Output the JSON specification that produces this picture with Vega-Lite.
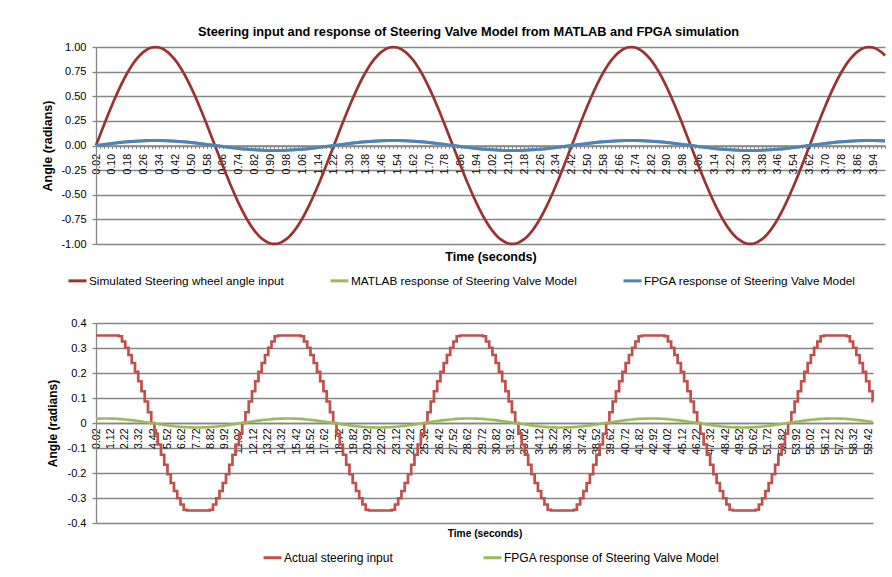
{
"$schema": "https://vega.github.io/schema/vega-lite/v6.json",
"padding": {"left": 41, "top": 26, "right": 5, "bottom": 5},
"config": {"view": {"stroke": null}, "font": "Liberation Sans",
 "axis": {"labelColor": "#000", "titleColor": "#000", "labelFont": "Liberation Sans", "titleFont": "Liberation Sans"},
 "legend": {"labelColor": "#000", "labelFont": "Liberation Sans", "labelLimit": 500}},
"datasets": {
"top": [
{"t":0.02,"s":0,"f":0},{"t":0.06,"s":0.2079,"f":0.0104},{"t":0.10,"s":0.4067,"f":0.0203},{"t":0.14,"s":0.5878,"f":0.0294},{"t":0.18,"s":0.7431,"f":0.0372},{"t":0.22,"s":0.8660,"f":0.0433},{"t":0.26,"s":0.9511,"f":0.0476},{"t":0.30,"s":0.9945,"f":0.0497},{"t":0.34,"s":0.9945,"f":0.0497},{"t":0.38,"s":0.9511,"f":0.0476},{"t":0.42,"s":0.8660,"f":0.0433},{"t":0.46,"s":0.7431,"f":0.0372},{"t":0.50,"s":0.5878,"f":0.0294},{"t":0.54,"s":0.4067,"f":0.0203},{"t":0.58,"s":0.2079,"f":0.0104},
{"t":0.62,"s":0,"f":0},{"t":0.66,"s":-0.2079,"f":-0.0104},{"t":0.70,"s":-0.4067,"f":-0.0203},{"t":0.74,"s":-0.5878,"f":-0.0294},{"t":0.78,"s":-0.7431,"f":-0.0372},{"t":0.82,"s":-0.8660,"f":-0.0433},{"t":0.86,"s":-0.9511,"f":-0.0476},{"t":0.90,"s":-0.9945,"f":-0.0497},{"t":0.94,"s":-0.9945,"f":-0.0497},{"t":0.98,"s":-0.9511,"f":-0.0476},{"t":1.02,"s":-0.8660,"f":-0.0433},{"t":1.06,"s":-0.7431,"f":-0.0372},{"t":1.10,"s":-0.5878,"f":-0.0294},{"t":1.14,"s":-0.4067,"f":-0.0203},{"t":1.18,"s":-0.2079,"f":-0.0104},
{"t":1.22,"s":0,"f":0},{"t":1.26,"s":0.2079,"f":0.0104},{"t":1.30,"s":0.4067,"f":0.0203},{"t":1.34,"s":0.5878,"f":0.0294},{"t":1.38,"s":0.7431,"f":0.0372},{"t":1.42,"s":0.8660,"f":0.0433},{"t":1.46,"s":0.9511,"f":0.0476},{"t":1.50,"s":0.9945,"f":0.0497},{"t":1.54,"s":0.9945,"f":0.0497},{"t":1.58,"s":0.9511,"f":0.0476},{"t":1.62,"s":0.8660,"f":0.0433},{"t":1.66,"s":0.7431,"f":0.0372},{"t":1.70,"s":0.5878,"f":0.0294},{"t":1.74,"s":0.4067,"f":0.0203},{"t":1.78,"s":0.2079,"f":0.0104},
{"t":1.82,"s":0,"f":0},{"t":1.86,"s":-0.2079,"f":-0.0104},{"t":1.90,"s":-0.4067,"f":-0.0203},{"t":1.94,"s":-0.5878,"f":-0.0294},{"t":1.98,"s":-0.7431,"f":-0.0372},{"t":2.02,"s":-0.8660,"f":-0.0433},{"t":2.06,"s":-0.9511,"f":-0.0476},{"t":2.10,"s":-0.9945,"f":-0.0497},{"t":2.14,"s":-0.9945,"f":-0.0497},{"t":2.18,"s":-0.9511,"f":-0.0476},{"t":2.22,"s":-0.8660,"f":-0.0433},{"t":2.26,"s":-0.7431,"f":-0.0372},{"t":2.30,"s":-0.5878,"f":-0.0294},{"t":2.34,"s":-0.4067,"f":-0.0203},{"t":2.38,"s":-0.2079,"f":-0.0104},
{"t":2.42,"s":0,"f":0},{"t":2.46,"s":0.2079,"f":0.0104},{"t":2.50,"s":0.4067,"f":0.0203},{"t":2.54,"s":0.5878,"f":0.0294},{"t":2.58,"s":0.7431,"f":0.0372},{"t":2.62,"s":0.8660,"f":0.0433},{"t":2.66,"s":0.9511,"f":0.0476},{"t":2.70,"s":0.9945,"f":0.0497},{"t":2.74,"s":0.9945,"f":0.0497},{"t":2.78,"s":0.9511,"f":0.0476},{"t":2.82,"s":0.8660,"f":0.0433},{"t":2.86,"s":0.7431,"f":0.0372},{"t":2.90,"s":0.5878,"f":0.0294},{"t":2.94,"s":0.4067,"f":0.0203},{"t":2.98,"s":0.2079,"f":0.0104},
{"t":3.02,"s":0,"f":0},{"t":3.06,"s":-0.2079,"f":-0.0104},{"t":3.10,"s":-0.4067,"f":-0.0203},{"t":3.14,"s":-0.5878,"f":-0.0294},{"t":3.18,"s":-0.7431,"f":-0.0372},{"t":3.22,"s":-0.8660,"f":-0.0433},{"t":3.26,"s":-0.9511,"f":-0.0476},{"t":3.30,"s":-0.9945,"f":-0.0497},{"t":3.34,"s":-0.9945,"f":-0.0497},{"t":3.38,"s":-0.9511,"f":-0.0476},{"t":3.42,"s":-0.8660,"f":-0.0433},{"t":3.46,"s":-0.7431,"f":-0.0372},{"t":3.50,"s":-0.5878,"f":-0.0294},{"t":3.54,"s":-0.4067,"f":-0.0203},{"t":3.58,"s":-0.2079,"f":-0.0104},
{"t":3.62,"s":0,"f":0},{"t":3.66,"s":0.2079,"f":0.0104},{"t":3.70,"s":0.4067,"f":0.0203},{"t":3.74,"s":0.5878,"f":0.0294},{"t":3.78,"s":0.7431,"f":0.0372},{"t":3.82,"s":0.8660,"f":0.0433},{"t":3.86,"s":0.9511,"f":0.0476},{"t":3.90,"s":0.9945,"f":0.0497},{"t":3.94,"s":0.9945,"f":0.0497},{"t":3.98,"s":0.9511,"f":0.0476},{"t":4.00,"s":0.9135,"f":0.0457}
],
"bot": [
{"t":0.02,"v":0.35,"g":0.0170},{"t":0.27,"v":0.35,"g":0.0175},{"t":0.52,"v":0.35,"g":0.0179},
{"t":0.77,"v":0.35,"g":0.0180},{"t":1.02,"v":0.35,"g":0.0179},{"t":1.27,"v":0.35,"g":0.0175},{"t":1.52,"v":0.35,"g":0.0170},{"t":1.77,"v":0.347,"g":0.0162},{"t":2.02,"v":0.326,"g":0.0152},{"t":2.27,"v":0.301,"g":0.0141},{"t":2.52,"v":0.272,"g":0.0127},{"t":2.77,"v":0.240,"g":0.0112},{"t":3.02,"v":0.205,"g":0.0096},{"t":3.27,"v":0.167,"g":0.0078},{"t":3.52,"v":0.127,"g":0.0059},{"t":3.77,"v":0.086,"g":0.0040},{"t":4.02,"v":0.043,"g":0.0020},{"t":4.27,"v":0,"g":0},{"t":4.52,"v":-0.043,"g":-0.0020},{"t":4.77,"v":-0.086,"g":-0.0040},{"t":5.02,"v":-0.127,"g":-0.0059},{"t":5.27,"v":-0.167,"g":-0.0078},{"t":5.52,"v":-0.205,"g":-0.0096},{"t":5.77,"v":-0.240,"g":-0.0112},{"t":6.02,"v":-0.272,"g":-0.0127},{"t":6.27,"v":-0.301,"g":-0.0141},{"t":6.52,"v":-0.326,"g":-0.0152},{"t":6.77,"v":-0.347,"g":-0.0162},{"t":7.02,"v":-0.35,"g":-0.0170},{"t":7.27,"v":-0.35,"g":-0.0175},{"t":7.52,"v":-0.35,"g":-0.0179},{"t":7.77,"v":-0.35,"g":-0.0180},{"t":8.02,"v":-0.35,"g":-0.0179},{"t":8.27,"v":-0.35,"g":-0.0175},{"t":8.52,"v":-0.35,"g":-0.0170},{"t":8.77,"v":-0.347,"g":-0.0162},{"t":9.02,"v":-0.326,"g":-0.0152},{"t":9.27,"v":-0.301,"g":-0.0141},{"t":9.52,"v":-0.272,"g":-0.0127},{"t":9.77,"v":-0.240,"g":-0.0112},{"t":10.02,"v":-0.205,"g":-0.0096},{"t":10.27,"v":-0.167,"g":-0.0078},{"t":10.52,"v":-0.127,"g":-0.0059},{"t":10.77,"v":-0.086,"g":-0.0040},{"t":11.02,"v":-0.043,"g":-0.0020},{"t":11.27,"v":0,"g":0},{"t":11.52,"v":0.043,"g":0.0020},{"t":11.77,"v":0.086,"g":0.0040},{"t":12.02,"v":0.127,"g":0.0059},{"t":12.27,"v":0.167,"g":0.0078},{"t":12.52,"v":0.205,"g":0.0096},{"t":12.77,"v":0.240,"g":0.0112},{"t":13.02,"v":0.272,"g":0.0127},{"t":13.27,"v":0.301,"g":0.0141},{"t":13.52,"v":0.326,"g":0.0152},{"t":13.77,"v":0.347,"g":0.0162},{"t":14.02,"v":0.35,"g":0.0170},{"t":14.27,"v":0.35,"g":0.0175},{"t":14.52,"v":0.35,"g":0.0179},
{"t":14.77,"v":0.35,"g":0.0180},{"t":15.02,"v":0.35,"g":0.0179},{"t":15.27,"v":0.35,"g":0.0175},{"t":15.52,"v":0.35,"g":0.0170},{"t":15.77,"v":0.347,"g":0.0162},{"t":16.02,"v":0.326,"g":0.0152},{"t":16.27,"v":0.301,"g":0.0141},{"t":16.52,"v":0.272,"g":0.0127},{"t":16.77,"v":0.240,"g":0.0112},{"t":17.02,"v":0.205,"g":0.0096},{"t":17.27,"v":0.167,"g":0.0078},{"t":17.52,"v":0.127,"g":0.0059},{"t":17.77,"v":0.086,"g":0.0040},{"t":18.02,"v":0.043,"g":0.0020},{"t":18.27,"v":0,"g":0},{"t":18.52,"v":-0.043,"g":-0.0020},{"t":18.77,"v":-0.086,"g":-0.0040},{"t":19.02,"v":-0.127,"g":-0.0059},{"t":19.27,"v":-0.167,"g":-0.0078},{"t":19.52,"v":-0.205,"g":-0.0096},{"t":19.77,"v":-0.240,"g":-0.0112},{"t":20.02,"v":-0.272,"g":-0.0127},{"t":20.27,"v":-0.301,"g":-0.0141},{"t":20.52,"v":-0.326,"g":-0.0152},{"t":20.77,"v":-0.347,"g":-0.0162},{"t":21.02,"v":-0.35,"g":-0.0170},{"t":21.27,"v":-0.35,"g":-0.0175},{"t":21.52,"v":-0.35,"g":-0.0179},{"t":21.77,"v":-0.35,"g":-0.0180},{"t":22.02,"v":-0.35,"g":-0.0179},{"t":22.27,"v":-0.35,"g":-0.0175},{"t":22.52,"v":-0.35,"g":-0.0170},{"t":22.77,"v":-0.347,"g":-0.0162},{"t":23.02,"v":-0.326,"g":-0.0152},{"t":23.27,"v":-0.301,"g":-0.0141},{"t":23.52,"v":-0.272,"g":-0.0127},{"t":23.77,"v":-0.240,"g":-0.0112},{"t":24.02,"v":-0.205,"g":-0.0096},{"t":24.27,"v":-0.167,"g":-0.0078},{"t":24.52,"v":-0.127,"g":-0.0059},{"t":24.77,"v":-0.086,"g":-0.0040},{"t":25.02,"v":-0.043,"g":-0.0020},{"t":25.27,"v":0,"g":0},{"t":25.52,"v":0.043,"g":0.0020},{"t":25.77,"v":0.086,"g":0.0040},{"t":26.02,"v":0.127,"g":0.0059},{"t":26.27,"v":0.167,"g":0.0078},{"t":26.52,"v":0.205,"g":0.0096},{"t":26.77,"v":0.240,"g":0.0112},{"t":27.02,"v":0.272,"g":0.0127},{"t":27.27,"v":0.301,"g":0.0141},{"t":27.52,"v":0.326,"g":0.0152},{"t":27.77,"v":0.347,"g":0.0162},{"t":28.02,"v":0.35,"g":0.0170},{"t":28.27,"v":0.35,"g":0.0175},{"t":28.52,"v":0.35,"g":0.0179},
{"t":28.77,"v":0.35,"g":0.0180},{"t":29.02,"v":0.35,"g":0.0179},{"t":29.27,"v":0.35,"g":0.0175},{"t":29.52,"v":0.35,"g":0.0170},{"t":29.77,"v":0.347,"g":0.0162},{"t":30.02,"v":0.326,"g":0.0152},{"t":30.27,"v":0.301,"g":0.0141},{"t":30.52,"v":0.272,"g":0.0127},{"t":30.77,"v":0.240,"g":0.0112},{"t":31.02,"v":0.205,"g":0.0096},{"t":31.27,"v":0.167,"g":0.0078},{"t":31.52,"v":0.127,"g":0.0059},{"t":31.77,"v":0.086,"g":0.0040},{"t":32.02,"v":0.043,"g":0.0020},{"t":32.27,"v":0,"g":0},{"t":32.52,"v":-0.043,"g":-0.0020},{"t":32.77,"v":-0.086,"g":-0.0040},{"t":33.02,"v":-0.127,"g":-0.0059},{"t":33.27,"v":-0.167,"g":-0.0078},{"t":33.52,"v":-0.205,"g":-0.0096},{"t":33.77,"v":-0.240,"g":-0.0112},{"t":34.02,"v":-0.272,"g":-0.0127},{"t":34.27,"v":-0.301,"g":-0.0141},{"t":34.52,"v":-0.326,"g":-0.0152},{"t":34.77,"v":-0.347,"g":-0.0162},{"t":35.02,"v":-0.35,"g":-0.0170},{"t":35.27,"v":-0.35,"g":-0.0175},{"t":35.52,"v":-0.35,"g":-0.0179},{"t":35.77,"v":-0.35,"g":-0.0180},{"t":36.02,"v":-0.35,"g":-0.0179},{"t":36.27,"v":-0.35,"g":-0.0175},{"t":36.52,"v":-0.35,"g":-0.0170},{"t":36.77,"v":-0.347,"g":-0.0162},{"t":37.02,"v":-0.326,"g":-0.0152},{"t":37.27,"v":-0.301,"g":-0.0141},{"t":37.52,"v":-0.272,"g":-0.0127},{"t":37.77,"v":-0.240,"g":-0.0112},{"t":38.02,"v":-0.205,"g":-0.0096},{"t":38.27,"v":-0.167,"g":-0.0078},{"t":38.52,"v":-0.127,"g":-0.0059},{"t":38.77,"v":-0.086,"g":-0.0040},{"t":39.02,"v":-0.043,"g":-0.0020},{"t":39.27,"v":0,"g":0},{"t":39.52,"v":0.043,"g":0.0020},{"t":39.77,"v":0.086,"g":0.0040},{"t":40.02,"v":0.127,"g":0.0059},{"t":40.27,"v":0.167,"g":0.0078},{"t":40.52,"v":0.205,"g":0.0096},{"t":40.77,"v":0.240,"g":0.0112},{"t":41.02,"v":0.272,"g":0.0127},{"t":41.27,"v":0.301,"g":0.0141},{"t":41.52,"v":0.326,"g":0.0152},{"t":41.77,"v":0.347,"g":0.0162},{"t":42.02,"v":0.35,"g":0.0170},{"t":42.27,"v":0.35,"g":0.0175},{"t":42.52,"v":0.35,"g":0.0179},
{"t":42.77,"v":0.35,"g":0.0180},{"t":43.02,"v":0.35,"g":0.0179},{"t":43.27,"v":0.35,"g":0.0175},{"t":43.52,"v":0.35,"g":0.0170},{"t":43.77,"v":0.347,"g":0.0162},{"t":44.02,"v":0.326,"g":0.0152},{"t":44.27,"v":0.301,"g":0.0141},{"t":44.52,"v":0.272,"g":0.0127},{"t":44.77,"v":0.240,"g":0.0112},{"t":45.02,"v":0.205,"g":0.0096},{"t":45.27,"v":0.167,"g":0.0078},{"t":45.52,"v":0.127,"g":0.0059},{"t":45.77,"v":0.086,"g":0.0040},{"t":46.02,"v":0.043,"g":0.0020},{"t":46.27,"v":0,"g":0},{"t":46.52,"v":-0.043,"g":-0.0020},{"t":46.77,"v":-0.086,"g":-0.0040},{"t":47.02,"v":-0.127,"g":-0.0059},{"t":47.27,"v":-0.167,"g":-0.0078},{"t":47.52,"v":-0.205,"g":-0.0096},{"t":47.77,"v":-0.240,"g":-0.0112},{"t":48.02,"v":-0.272,"g":-0.0127},{"t":48.27,"v":-0.301,"g":-0.0141},{"t":48.52,"v":-0.326,"g":-0.0152},{"t":48.77,"v":-0.347,"g":-0.0162},{"t":49.02,"v":-0.35,"g":-0.0170},{"t":49.27,"v":-0.35,"g":-0.0175},{"t":49.52,"v":-0.35,"g":-0.0179},{"t":49.77,"v":-0.35,"g":-0.0180},{"t":50.02,"v":-0.35,"g":-0.0179},{"t":50.27,"v":-0.35,"g":-0.0175},{"t":50.52,"v":-0.35,"g":-0.0170},{"t":50.77,"v":-0.347,"g":-0.0162},{"t":51.02,"v":-0.326,"g":-0.0152},{"t":51.27,"v":-0.301,"g":-0.0141},{"t":51.52,"v":-0.272,"g":-0.0127},{"t":51.77,"v":-0.240,"g":-0.0112},{"t":52.02,"v":-0.205,"g":-0.0096},{"t":52.27,"v":-0.167,"g":-0.0078},{"t":52.52,"v":-0.127,"g":-0.0059},{"t":52.77,"v":-0.086,"g":-0.0040},{"t":53.02,"v":-0.043,"g":-0.0020},{"t":53.27,"v":0,"g":0},{"t":53.52,"v":0.043,"g":0.0020},{"t":53.77,"v":0.086,"g":0.0040},{"t":54.02,"v":0.127,"g":0.0059},{"t":54.27,"v":0.167,"g":0.0078},{"t":54.52,"v":0.205,"g":0.0096},{"t":54.77,"v":0.240,"g":0.0112},{"t":55.02,"v":0.272,"g":0.0127},{"t":55.27,"v":0.301,"g":0.0141},{"t":55.52,"v":0.326,"g":0.0152},{"t":55.77,"v":0.347,"g":0.0162},{"t":56.02,"v":0.35,"g":0.0170},{"t":56.27,"v":0.35,"g":0.0175},{"t":56.52,"v":0.35,"g":0.0179},
{"t":56.77,"v":0.35,"g":0.0180},{"t":57.02,"v":0.35,"g":0.0179},{"t":57.27,"v":0.35,"g":0.0175},{"t":57.52,"v":0.35,"g":0.0170},{"t":57.77,"v":0.347,"g":0.0162},{"t":58.02,"v":0.326,"g":0.0152},{"t":58.27,"v":0.301,"g":0.0141},{"t":58.52,"v":0.272,"g":0.0127},{"t":58.77,"v":0.240,"g":0.0112},{"t":59.02,"v":0.205,"g":0.0096},{"t":59.27,"v":0.167,"g":0.0078},{"t":59.52,"v":0.127,"g":0.0059},{"t":59.77,"v":0.086,"g":0.0040},{"t":59.80,"v":0.086,"g":0.0038}
]
},
"vconcat": [
{
 "width": 789, "height": 197,
 "title": {"text": "Steering input and response of Steering Valve Model from MATLAB and FPGA simulation", "fontSize": 12.8, "fontWeight": "bold", "color": "#000", "offset": 2, "dx": -22},
 "data": {"name": "top"},
 "encoding": {
  "x": {"field": "t", "type": "quantitative", "scale": {"domain": [0.02, 4.0], "nice": false, "zero": false},
   "axis": {"orient": "bottom", "offset": -98.5, "tickCount": 199,
    "labelExpr": "round(datum.value*50) % 4 == 1 ? format(datum.value, '.2f') : ''",
    "labelAngle": -90, "labelFontSize": 10.5, "labelPadding": 5, "labelOverlap": false, "labelFlush": false, "labelBound": false,
    "tickSize": 3, "tickColor": "#868686", "tickWidth": 1, "domainColor": "#868686", "domainWidth": 1.3, "grid": false,
    "title": "Time (seconds)", "titleY": 111, "titleBaseline": "middle", "titleFontSize": 12.5, "titleFontWeight": "bold"}}
 },
 "layer": [
  {"mark": {"type": "line", "interpolate": "catmull-rom", "strokeWidth": 2.7},
   "encoding": {
    "y": {"field": "s", "type": "quantitative", "title": "Angle (radians)", "scale": {"domain": [-1, 1], "nice": false},
     "axis": {"values": [-1, -0.75, -0.5, -0.25, 0, 0.25, 0.5, 0.75, 1], "labelExpr": "replace(format(datum.value, '.2f'), '−', '-')",
      "grid": true, "gridColor": "#868686", "gridWidth": 1.3, "domainColor": "#868686", "domainWidth": 1.3, "tickColor": "#868686", "tickSize": 4, "tickWidth": 1.3,
      "labelPadding": 6, "labelFontSize": 11, "title": "Angle (radians)", "titleFontSize": 12.5, "titleFontWeight": "bold", "titleX": -49, "titleBaseline": "middle"}},
    "color": {"datum": "Simulated Steering wheel angle input", "type": "nominal",
     "scale": {"domain": ["Simulated Steering wheel angle input", "MATLAB response of Steering Valve Model", "FPGA response of Steering Valve Model"], "range": ["#993333", "#9BBB59", "#4F81BD"]},
     "legend": {"orient": "none", "legendX": -29, "legendY": 223, "direction": "horizontal", "title": null, "symbolType": "stroke", "symbolStrokeWidth": 3, "symbolSize": 324, "labelFontSize": 11.8, "columnPadding": 40, "labelOffset": 1, "labelLimit": 500}}
   }},
  {"mark": {"type": "line", "interpolate": "catmull-rom", "strokeWidth": 3},
   "encoding": {"y": {"field": "f", "type": "quantitative", "title": "Angle (radians)",
     "axis": {"values": [-1, -0.75, -0.5, -0.25, 0, 0.25, 0.5, 0.75, 1], "labelExpr": "replace(format(datum.value, '.2f'), '−', '-')",
      "grid": true, "gridColor": "#868686", "gridWidth": 1.3, "domainColor": "#868686", "domainWidth": 1.3, "tickColor": "#868686", "tickSize": 4, "tickWidth": 1.3,
      "labelPadding": 6, "labelFontSize": 11, "title": "Angle (radians)", "titleFontSize": 12.5, "titleFontWeight": "bold", "titleX": -49, "titleBaseline": "middle"}},
    "color": {"datum": "MATLAB response of Steering Valve Model", "type": "nominal"}}},
  {"mark": {"type": "line", "interpolate": "catmull-rom", "strokeWidth": 3},
   "encoding": {"y": {"field": "f", "type": "quantitative", "title": "Angle (radians)",
     "axis": {"values": [-1, -0.75, -0.5, -0.25, 0, 0.25, 0.5, 0.75, 1], "labelExpr": "replace(format(datum.value, '.2f'), '−', '-')",
      "grid": true, "gridColor": "#868686", "gridWidth": 1.3, "domainColor": "#868686", "domainWidth": 1.3, "tickColor": "#868686", "tickSize": 4, "tickWidth": 1.3,
      "labelPadding": 6, "labelFontSize": 11, "title": "Angle (radians)", "titleFontSize": 12.5, "titleFontWeight": "bold", "titleX": -49, "titleBaseline": "middle"}},
    "color": {"datum": "FPGA response of Steering Valve Model", "type": "nominal"}}}
 ]
},
{
 "width": 777, "height": 200,
 "data": {"name": "bot"},
 "encoding": {
  "x": {"field": "t", "type": "quantitative", "scale": {"domain": [0.02, 59.8], "nice": false, "zero": false},
   "axis": {"orient": "bottom", "offset": -100,
    "values": [0.02,1.12,2.22,3.32,4.42,5.52,6.62,7.72,8.82,9.92,11.02,12.12,13.22,14.32,15.42,16.52,17.62,18.72,19.82,20.92,22.02,23.12,24.22,25.32,26.42,27.52,28.62,29.72,30.82,31.92,33.02,34.12,35.22,36.32,37.42,38.52,39.62,40.72,41.82,42.92,44.02,45.12,46.22,47.32,48.42,49.52,50.62,51.72,52.82,53.92,55.02,56.12,57.22,58.32,59.42],
    "format": ".2f", "labelAngle": -90, "labelFontSize": 10.5, "labelPadding": 5, "labelOverlap": false, "labelFlush": false,
    "ticks": false, "domainColor": "#868686", "domainWidth": 1.3, "grid": false,
    "title": "Time (seconds)", "titleY": 110, "titleBaseline": "middle", "titleFontSize": 10.2, "titleFontWeight": "bold"}}
 },
 "layer": [
  {"mark": {"type": "line", "interpolate": "step-after", "strokeWidth": 2.7},
   "encoding": {
    "y": {"field": "v", "type": "quantitative", "title": "Angle (radians)", "scale": {"domain": [-0.4, 0.4], "nice": false},
     "axis": {"values": [-0.4, -0.3, -0.2, -0.1, 0, 0.1, 0.2, 0.3, 0.4], "labelExpr": "replace(format(datum.value, '.1~f'), '−', '-')",
      "grid": true, "gridColor": "#868686", "gridWidth": 1.3, "domainColor": "#868686", "domainWidth": 1.3, "tickColor": "#868686", "tickSize": 4, "tickWidth": 1.3,
      "labelPadding": 6, "labelFontSize": 11, "title": "Angle (radians)", "titleFontSize": 12, "titleFontWeight": "bold", "titleX": -44, "titleBaseline": "middle"}},
    "color": {"datum": "Actual steering input", "type": "nominal",
     "scale": {"domain": ["Actual steering input", "FPGA response of Steering Valve Model"], "range": ["#C0504D", "#9BBB59"]},
     "legend": {"orient": "none", "legendX": 166, "legendY": 224, "direction": "horizontal", "title": null, "symbolType": "stroke", "symbolStrokeWidth": 3, "symbolSize": 324, "labelFontSize": 12, "columnPadding": 84, "labelOffset": 1, "labelLimit": 500}}
   }},
  {"mark": {"type": "line", "interpolate": "monotone", "strokeWidth": 2.7},
   "encoding": {"y": {"field": "g", "type": "quantitative", "title": "Angle (radians)",
     "axis": {"values": [-0.4, -0.3, -0.2, -0.1, 0, 0.1, 0.2, 0.3, 0.4], "labelExpr": "replace(format(datum.value, '.1~f'), '−', '-')",
      "grid": true, "gridColor": "#868686", "gridWidth": 1.3, "domainColor": "#868686", "domainWidth": 1.3, "tickColor": "#868686", "tickSize": 4, "tickWidth": 1.3,
      "labelPadding": 6, "labelFontSize": 11, "title": "Angle (radians)", "titleFontSize": 12, "titleFontWeight": "bold", "titleX": -44, "titleBaseline": "middle"}},
    "color": {"datum": "FPGA response of Steering Valve Model", "type": "nominal"}}}
 ]
}
],
"spacing": 79,
"bounds": "flush",
"resolve": {"scale": {"color": "independent", "x": "independent", "y": "independent"}, "legend": {"color": "independent"}}
}
